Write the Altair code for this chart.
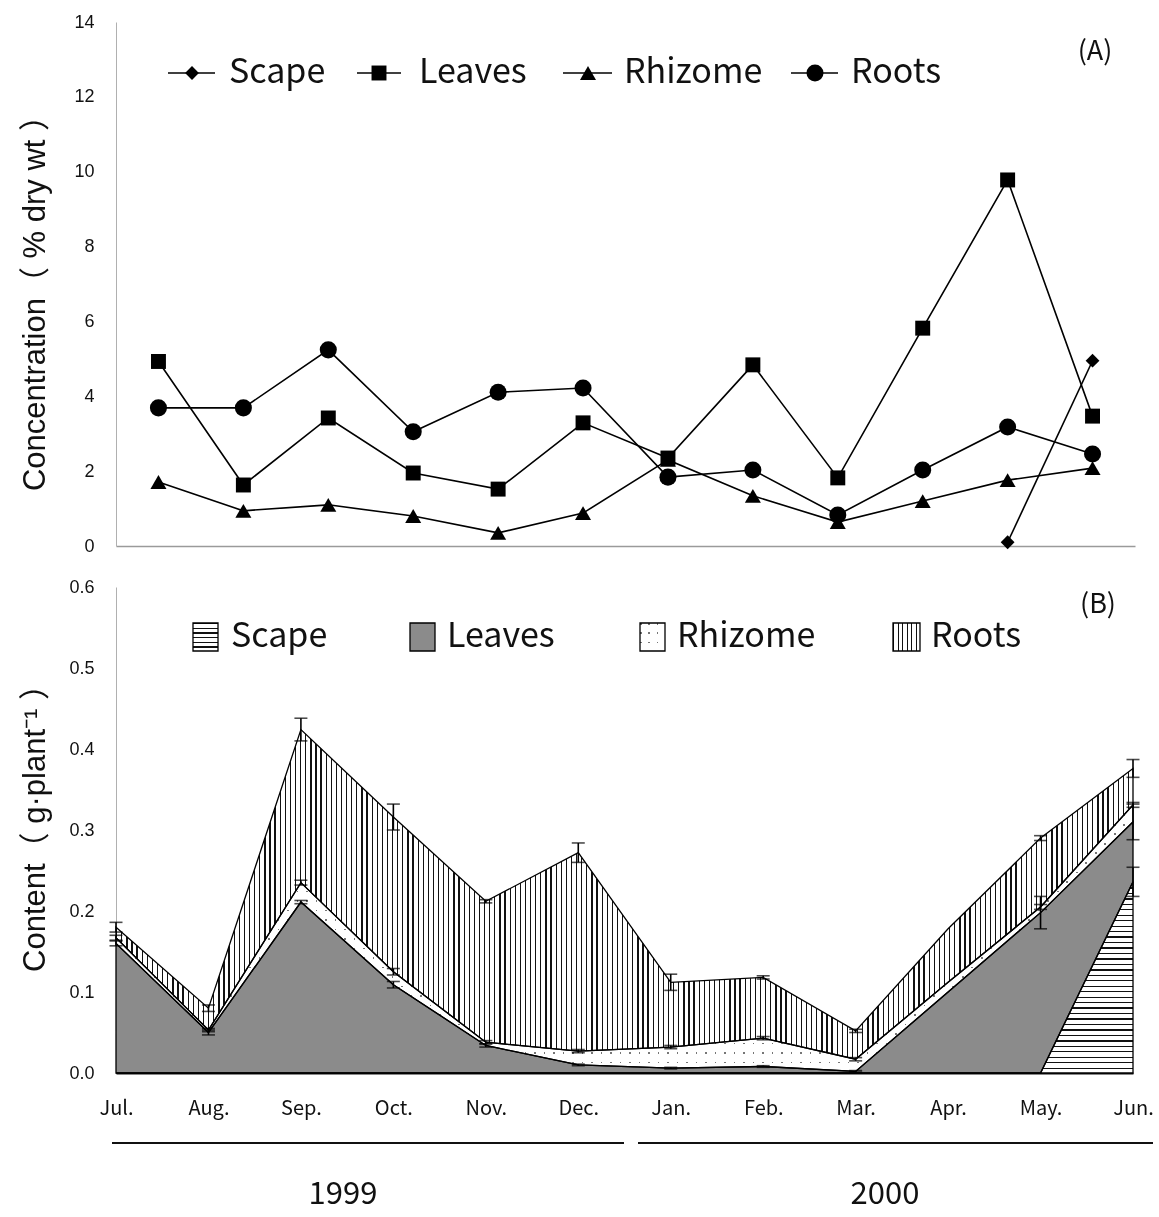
import altair as alt
import pandas as pd

months = ["Jul.", "Aug.", "Sep.", "Oct.", "Nov.", "Dec.",
          "Jan.", "Feb.", "Mar.", "Apr.", "May.", "Jun."]
organs = ["Scape", "Leaves", "Rhizome", "Roots"]

# (A) concentration (% dry wt)
conc_scape = [None] * 10 + [0.10, 4.95]
conc_leaves = [4.93, 1.63, 3.42, 1.95, 1.52, 3.29, 2.35, 4.84, 1.82, 5.82, 9.78, 3.47]
conc_rhizome = [1.71, 0.94, 1.10, 0.80, 0.35, 0.88, 2.30, 1.34, 0.64, 1.20, 1.76, 2.08]
conc_roots = [3.69, 3.69, 5.24, 3.05, 4.11, 4.22, 1.84, 2.03, 0.83, 2.03, 3.18, 2.46]

# (B) content (g per plant) of each organ, stacked Scape -> Roots
cont_scape = [0, 0, 0, 0, 0, 0, 0, 0, 0, 0, 0, 0.236]
cont_leaves = [0.160, 0.050, 0.211, 0.109, 0.034, 0.010, 0.006, 0.008, 0.002, 0.100, 0.198, 0.074]
cont_rhizome = [0.007, 0.003, 0.024, 0.016, 0.004, 0.017, 0.026, 0.035, 0.015, 0.012, 0.007, 0.021]
cont_roots = [0.013, 0.027, 0.189, 0.191, 0.174, 0.245, 0.080, 0.075, 0.035, 0.066, 0.085, 0.045]

# standard deviations drawn as error bars on each cumulative top
sd_scape = [None] * 11 + [0.018]
sd_leaves = [0.003, 0.003, 0.002, 0.004, 0.002, 0.001, 0.001, 0.001, 0.001, None, 0.020, 0.022]
sd_rhizome = [0.003, 0.002, 0.003, 0.004, 0.002, 0.002, 0.002, 0.002, 0.002, None, 0.003, 0.003]
sd_roots = [0.006, 0.004, 0.014, 0.016, 0.002, 0.012, 0.010, 0.002, 0.002, None, 0.003, 0.011]

years = ["1999", "2000"]

W_A, H_A = 1019, 524
W_B, H_B = 1017, 486
SANS = "Liberation Sans, Arial, sans-serif"
TITLE = "Liberation Sans, Noto Sans CJK JP, sans-serif"
NARROW = "Noto Sans CJK JP, Liberation Sans, sans-serif"


def stripes(length, period, line, across="x", ink="#111111"):
    """Hard-edged linear gradient that paints parallel lines on white."""
    n = max(1, int(round(length / period)))
    w = line / length
    stops = []
    for i in range(n):
        a = i / n
        b = min(a + w, (i + 1) / n)
        stops += [
            alt.GradientStop(offset=a, color=ink),
            alt.GradientStop(offset=b, color=ink),
            alt.GradientStop(offset=b, color="white"),
            alt.GradientStop(offset=(i + 1) / n, color="white"),
        ]
    if across == "x":
        return alt.LinearGradient(gradient="linear", stops=stops, x1=0, y1=0, x2=1, y2=0)
    return alt.LinearGradient(gradient="linear", stops=stops, x1=0, y1=0, x2=0, y2=1)


# ---------------- panel A ----------------
conc_rows = []
for organ, vals in [("Scape", conc_scape), ("Rhizome", conc_rhizome),
                    ("Leaves", conc_leaves), ("Roots", conc_roots)]:
    for m, v in zip(months, vals):
        if v is not None:
            conc_rows.append({"organ": organ, "month": m, "value": v})
conc = pd.DataFrame(conc_rows)

shape_scale = alt.Scale(domain=organs, range=["diamond", "square", "triangle-up", "circle"])
size_scale = alt.Scale(domain=organs, range=[190, 290, 270, 250])

xA = alt.X("month:O", sort=months, scale=alt.Scale(type="point", padding=0.5),
           axis=alt.Axis(labels=False, ticks=False, title=None, domainColor="#9a9a9a",
                         domainWidth=1.5, grid=False))
yA = alt.Y("value:Q", scale=alt.Scale(domain=[0, 14], nice=False),
           axis=alt.Axis(values=list(range(0, 15, 2)), grid=False, ticks=False,
                         domainColor="#b0b0b0", labelFont=SANS, labelFontSize=18,
                         labelColor="#111111", labelPadding=22,
                         title="Concentration（ % dry wt ）", titleFont=TITLE,
                         titleFontSize=31, titleFontWeight="normal", titleColor="#111111",
                         titleX=-81, titleY=H_A / 2 + 11, titleAngle=270,
                         titleAlign="center", titleBaseline="middle"))

linesA = alt.Chart(conc).mark_line(color="black", strokeWidth=1.6).encode(
    x=xA, y=yA, detail="organ:N")
pointsA = alt.Chart(conc).mark_point(filled=True, color="black", opacity=1).encode(
    x=xA, y=yA,
    shape=alt.Shape("organ:N", scale=shape_scale, legend=None),
    size=alt.Size("organ:N", scale=size_scale, legend=None))

legA = pd.DataFrame({
    "organ": organs,
    "x0": [52, 241, 447, 675],
    "x1": [99, 285, 496, 722],
    "xm": [76, 263, 472, 699],
    "xt": [113, 303, 508, 735],
    "y": [51, 51, 51, 51],
})
legA_rule = alt.Chart(legA).mark_rule(color="black", strokeWidth=1.6).encode(
    x=alt.X("x0:Q", scale=None, axis=None), x2="x1:Q",
    y=alt.Y("y:Q", scale=None, axis=None))
legA_pt = alt.Chart(legA).mark_point(filled=True, color="black", opacity=1).encode(
    x=alt.X("xm:Q", scale=None, axis=None), y=alt.Y("y:Q", scale=None, axis=None),
    shape=alt.Shape("organ:N", scale=shape_scale, legend=None),
    size=alt.Size("organ:N", scale=size_scale, legend=None))
legA_txt = alt.Chart(legA).mark_text(align="left", baseline="middle", font=NARROW,
                                     fontSize=34, color="#111111").encode(
    x=alt.X("xt:Q", scale=None, axis=None), y=alt.Y("y:Q", scale=None, axis=None),
    text="organ:N")
tagA = alt.Chart(pd.DataFrame({"t": ["(A)"]})).mark_text(
    font=NARROW, fontSize=27, color="#111111", baseline="middle", align="center").encode(
    x=alt.value(979), y=alt.value(30), text="t:N")

panelA = alt.layer(linesA, pointsA, legA_rule, legA_pt, legA_txt, tagA).properties(
    width=W_A, height=H_A)

# ---------------- panel B ----------------
rows = []
err_rows = []
base = [0.0] * 12
for organ, vals, sds in [("Scape", cont_scape, sd_scape), ("Leaves", cont_leaves, sd_leaves),
                         ("Rhizome", cont_rhizome, sd_rhizome), ("Roots", cont_roots, sd_roots)]:
    top = [b + v for b, v in zip(base, vals)]
    for i, m in enumerate(months):
        rows.append({"organ": organ, "month": m, "lo": base[i], "hi": top[i]})
        if sds[i] is not None:
            err_rows.append({"organ": organ, "month": m,
                             "e_lo": top[i] - sds[i], "e_hi": top[i] + sds[i]})
    base = top
content = pd.DataFrame(rows)
errs = pd.DataFrame(err_rows)

rhz = content[content.organ == "Rhizome"]
rhz_span = (rhz.hi.max() - rhz.lo.min()) / 0.6 * H_B

# fills; the rhizome dots come from two line gratings combined with a screen blend
fills = {
    "Scape": [stripes(191, 5.4, 1.3, across="y")],
    "Leaves": ["#8b8b8b"],
    "Rhizome": [stripes(W_B, 9.5, 1.6, across="x", ink="#444444"),
                stripes(rhz_span, 9.5, 1.6, across="y", ink="#444444")],
    "Roots": [stripes(W_B, 5.1, 1.3, across="x")],
}
leg_fills = {
    "Scape": [stripes(28, 4.6, 1.3, across="y")],
    "Leaves": ["#8b8b8b"],
    "Rhizome": [stripes(25, 8.3, 1.6, across="x", ink="#444444"),
                stripes(28, 9.3, 1.6, across="y", ink="#444444")],
    "Roots": [stripes(27, 4.5, 1.3, across="x")],
}

xB = alt.X("month:O", sort=months, scale=alt.Scale(type="point", padding=0),
           axis=alt.Axis(title=None, ticks=False, grid=False, domainColor="#111111",
                         domainWidth=2, labelFont=NARROW, labelFontSize=20,
                         labelColor="#111111", labelPadding=25, labelAngle=0))
yB_axis = alt.Axis(values=[0, 0.1, 0.2, 0.3, 0.4, 0.5, 0.6], format=".1f", grid=False,
                   ticks=False, domainColor="#b0b0b0", labelFont=SANS, labelFontSize=18,
                   labelColor="#111111", labelPadding=22,
                   title="Content（ g·plant⁻¹ ）", titleFont=TITLE, titleFontSize=31,
                   titleFontWeight="normal", titleColor="#111111",
                   titleX=-81, titleY=H_B / 2 - 10, titleAngle=270,
                   titleAlign="center", titleBaseline="middle")
yscaleB = alt.Scale(domain=[0, 0.6], nice=False)

area_fills = []
area_lines = []
for organ in organs:
    sub = content[content.organ == organ]
    for k, f in enumerate(fills[organ]):
        kw = {"blend": "screen"} if k > 0 else {}
        area_fills.append(
            alt.Chart(sub).mark_area(fill=f, strokeWidth=0, opacity=1, **kw).encode(
                x=xB, y=alt.Y("hi:Q", scale=yscaleB, axis=yB_axis), y2="lo:Q"))
    area_lines.append(
        alt.Chart(sub).mark_area(fillOpacity=0, fill="white", stroke="black",
                                 strokeWidth=1.3, strokeJoin="miter").encode(
            x=xB, y=alt.Y("hi:Q", scale=yscaleB, axis=yB_axis), y2="lo:Q"))

err_rule = alt.Chart(errs).mark_rule(color="black", strokeWidth=1.6).encode(
    x=xB, y=alt.Y("e_lo:Q", scale=yscaleB, axis=yB_axis), y2="e_hi:Q")
err_cap_lo = alt.Chart(errs).mark_tick(color="black", thickness=1.6, size=13).encode(
    x=xB, y=alt.Y("e_lo:Q", scale=yscaleB, axis=yB_axis))
err_cap_hi = alt.Chart(errs).mark_tick(color="black", thickness=1.6, size=13).encode(
    x=xB, y=alt.Y("e_hi:Q", scale=yscaleB, axis=yB_axis))

legB = pd.DataFrame({
    "organ": organs,
    "x0": [77, 294, 524, 777],
    "x1": [102, 319, 549, 804],
    "y0": [36, 36, 36, 36],
    "y1": [64, 64, 64, 64],
    "xt": [115, 331, 561, 815],
    "y": [50, 50, 50, 50],
})
legB_boxes = []
for organ in organs:
    row = legB[legB.organ == organ]
    enc = dict(x=alt.X("x0:Q", scale=None, axis=None), x2="x1:Q",
               y=alt.Y("y0:Q", scale=None, axis=None), y2="y1:Q")
    for k, f in enumerate(leg_fills[organ]):
        kw = {"blend": "screen"} if k > 0 else {}
        legB_boxes.append(alt.Chart(row).mark_rect(fill=f, strokeWidth=0, **kw).encode(**enc))
    legB_boxes.append(alt.Chart(row).mark_rect(fillOpacity=0, fill="white", stroke="black",
                                               strokeWidth=1.3).encode(**enc))
legB_txt = alt.Chart(legB).mark_text(align="left", baseline="middle", font=NARROW,
                                     fontSize=34, color="#111111").encode(
    x=alt.X("xt:Q", scale=None, axis=None), y=alt.Y("y:Q", scale=None, axis=None),
    text="organ:N")
tagB = alt.Chart(pd.DataFrame({"t": ["(B)"]})).mark_text(
    font=NARROW, fontSize=27, color="#111111", baseline="middle", align="center").encode(
    x=alt.value(982), y=alt.value(18), text="t:N")

# year brackets under the month axis
yr = pd.DataFrame({
    "year": years,
    "x0": [-4, 522],
    "x1": [508, 1037],
    "xc": [227, 769],
    "yl": [556, 556],
    "yt": [608, 608],
})
yr_rule = alt.Chart(yr).mark_rule(color="#111111", strokeWidth=2).encode(
    x=alt.X("x0:Q", scale=None, axis=None), x2="x1:Q",
    y=alt.Y("yl:Q", scale=None, axis=None))
yr_txt = alt.Chart(yr).mark_text(font=NARROW, fontSize=31, color="#111111",
                                 baseline="middle", align="center").encode(
    x=alt.X("xc:Q", scale=None, axis=None), y=alt.Y("yt:Q", scale=None, axis=None),
    text="year:N")

panelB = alt.layer(*area_fills, *area_lines, err_rule, err_cap_lo, err_cap_hi,
                   *legB_boxes, legB_txt, tagB, yr_rule, yr_txt).properties(
    width=W_B, height=H_B)

chart = alt.vconcat(panelA, panelB, spacing=41, bounds="flush").properties(
    padding={"left": 19, "top": 13, "right": 5, "bottom": 5},
    background="white",
).configure_view(strokeWidth=0)

chart.save("out.html", embed_options={"renderer": "svg", "actions": False})
